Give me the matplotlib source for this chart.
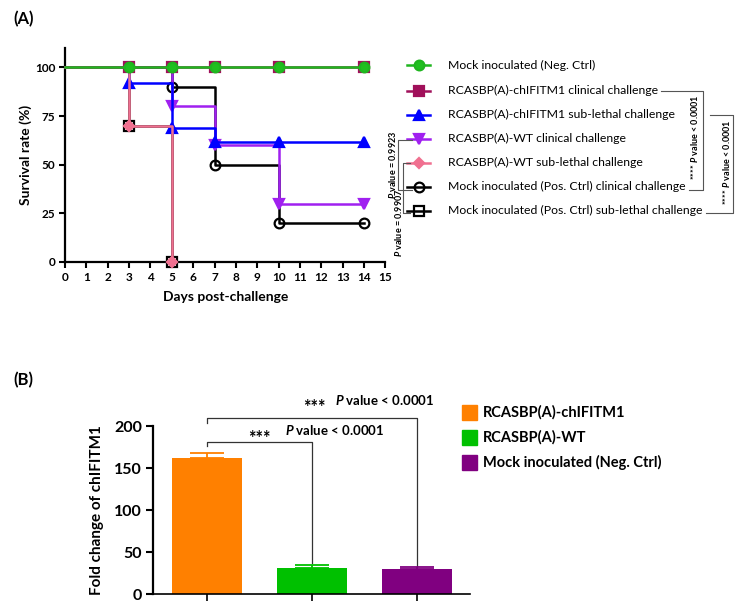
import matplotlib
matplotlib.use('Agg')
import matplotlib.pyplot as plt
from matplotlib.lines import Line2D
from matplotlib.patches import Rectangle

plt.rcParams['font.family'] = ['Lato', 'DejaVu Sans']
plt.rcParams['mathtext.fontset'] = 'custom'
plt.rcParams['mathtext.rm'] = 'Lato'
plt.rcParams['mathtext.it'] = 'Lato:italic'
plt.rcParams['mathtext.bf'] = 'Lato:bold'
plt.rcParams['mathtext.bfit'] = 'Lato:bold:italic'

W, H = 745, 608


def fx(px):
    return px / W


def fy(py):
    return 1 - py / H


# ---- panel A: survival (% alive) by day post-challenge
days_neg = [0, 3, 5, 7, 10, 14]
surv_neg = [100, 100, 100, 100, 100, 100]
days_chi_clin = [0, 3, 5, 7, 10, 14]
surv_chi_clin = [100, 100, 100, 100, 100, 100]
days_chi_sub = [0, 3, 5, 7, 10, 14]
surv_chi_sub = [100, 92, 69, 61.5, 61.5, 61.5]
days_wt_clin = [0, 5, 7, 10, 14]
surv_wt_clin = [100, 80, 60, 30, 30]
days_wt_sub = [0, 3, 5]
surv_wt_sub = [100, 70, 0]
days_pos_clin = [0, 5, 7, 10, 14]
surv_pos_clin = [100, 90, 50, 20, 20]
days_pos_sub = [0, 3, 5]
surv_pos_sub = [100, 70, 0]

labels_a = [
    'Mock inoculated (Neg. Ctrl)',
    'RCASBP(A)-chIFITM1 clinical challenge',
    'RCASBP(A)-chIFITM1 sub-lethal challenge',
    'RCASBP(A)-WT clinical challenge',
    'RCASBP(A)-WT sub-lethal challenge',
    'Mock inoculated (Pos. Ctrl) clinical challenge',
    'Mock inoculated (Pos. Ctrl) sub-lethal challenge',
]

# ---- panel B: fold change of chIFITM1
groups_b = ['RCASBP(A)-chIFITM1', 'RCASBP(A)-WT', 'Mock inoculated (Neg. Ctrl)']
fold_change = [161.5, 31, 29.5]
fold_err = [6.5, 3, 2.5]

# label, days, surv, colour, marker, face, zorder
series = [
    (labels_a[0], days_neg, surv_neg, '#1fb51f', 'o', '#1fc01f', 9),
    (labels_a[1], days_chi_clin, surv_chi_clin, '#a0105a', 's', '#a0105a', 8),
    (labels_a[2], days_chi_sub, surv_chi_sub, '#0000ff', '^', '#0000ff', 5),
    (labels_a[3], days_wt_clin, surv_wt_clin, '#a020f0', 'v', '#a020f0', 4),
    (labels_a[4], days_wt_sub, surv_wt_sub, '#f07090', 'D', '#f07090', 6),
    (labels_a[5], days_pos_clin, surv_pos_clin, 'black', 'o', 'none', 3),
    (labels_a[6], days_pos_sub, surv_pos_sub, 'black', 's', 'none', 2),
]
msize = {'o': 7, 's': 6.5, '^': 7, 'v': 7, 'D': 5}

fig = plt.figure(figsize=(7.45, 6.08), dpi=100)

ax = fig.add_axes([fx(65), fy(262), 320.4 / W, 214 / H])
for lab, d, s, c, m, fc, z in series:
    ax.step(d, s, where='post', color=c, lw=1.8, zorder=z, clip_on=False)
    ax.plot(d[1:], s[1:], ls='none', marker=m, ms=msize[m], mfc=fc,
            mec=c, mew=1.6, zorder=z, clip_on=False)

ax.set_xlim(0, 15)
ax.set_ylim(0, 110)
ax.set_xticks(range(16))
ax.set_yticks([0, 25, 50, 75, 100])
for sp in ['top', 'right']:
    ax.spines[sp].set_visible(False)
for sp in ['left', 'bottom']:
    ax.spines[sp].set_linewidth(1.6)
ax.tick_params(direction='out', length=4, width=1.5, labelsize=8.5, pad=3)
for t in ax.get_xticklabels() + ax.get_yticklabels():
    t.set_fontweight('bold')
ax.set_xlabel('Days post-challenge', fontsize=10, fontweight='bold', labelpad=6)
ax.set_ylabel('Survival rate (%)', fontsize=10, fontweight='bold', labelpad=2)

# legend of panel A, drawn by hand
leg_y = [65, 90.5, 114.5, 138.5, 162.5, 186.5, 210.5]
leg_texts = []
for (lab, d, s, c, m, fc, z), y in zip(series, leg_y):
    fig.add_artist(Line2D([fx(407), fx(430)], [fy(y), fy(y)], color=c, lw=1.8))
    fig.add_artist(Line2D([fx(418.5)], [fy(y)], marker=m, ms=msize[m], mfc=fc,
                          mec=c, mew=1.6))
    leg_texts.append(fig.text(fx(448), fy(y), lab, va='center', ha='left',
                              fontsize=8.8))

fig.canvas.draw()
rend = fig.canvas.get_renderer()


def text_end(t):
    return t.get_window_extent(rend).x1 + 3


def bracket(pts, lw=0.8, color='#555555'):
    xs = [fx(p[0]) for p in pts]
    ys = [fy(p[1]) for p in pts]
    fig.add_artist(Line2D(xs, ys, color=color, lw=lw))


bracket([(text_end(leg_texts[1]), 91), (703, 91), (703, 190),
         (text_end(leg_texts[5]), 190)])
bracket([(710, 115), (733, 115), (733, 213), (text_end(leg_texts[6]), 213)])
bracket([(412, 140), (398, 140), (398, 190), (412, 190)])
bracket([(410, 163), (403, 163), (403, 213), (410, 213)])

sig = r'**** $\mathbfit{P}$ value < 0.0001'
fig.text(fx(695), fy(137), sig, rotation=90, ha='center', va='center',
         fontsize=6.5, fontweight='bold')
fig.text(fx(727), fy(162), sig, rotation=90, ha='center', va='center',
         fontsize=6.5, fontweight='bold')
fig.text(fx(392), fy(165), r'$\mathbfit{P}$ value = 0.9923', rotation=90,
         ha='center', va='center', fontsize=6.5, fontweight='bold')
fig.text(fx(399), fy(223), r'$\mathbfit{P}$ value = 0.9907', rotation=90,
         ha='center', va='center', fontsize=6.5, fontweight='bold')

# ---- panel B
bar_colors = ['#ff8000', '#00c000', '#800080']
axb = fig.add_axes([fx(153), fy(594), 317 / W, 168 / H])
xb = list(range(len(groups_b)))
axb.bar(xb, fold_change, width=0.667, color=bar_colors, zorder=2)
for x, v, e, c in zip(xb, fold_change, fold_err, bar_colors):
    axb.errorbar([x], [v], yerr=[[0], [e]], color=c, lw=1.3, capsize=12.5,
                 capthick=1.3, zorder=3)
axb.set_xlim(-0.514, 2.505)
axb.set_ylim(0, 200)
axb.set_yticks([0, 50, 100, 150, 200])
axb.set_xticks(xb)
axb.set_xticklabels([])
for sp in ['top', 'right']:
    axb.spines[sp].set_visible(False)
axb.spines['left'].set_linewidth(1.6)
axb.spines['bottom'].set_linewidth(1.2)
axb.tick_params(axis='y', direction='out', length=5, width=1.5, labelsize=11.5, pad=3)
axb.tick_params(axis='x', direction='out', length=5, width=1.2)
for t in axb.get_yticklabels():
    t.set_fontweight('bold')
axb.set_ylabel('Fold change of chIFITM1', fontsize=11, fontweight='bold', labelpad=7)

# significance brackets
axb.plot([0, 0, 1, 1], [176, 181, 181, 37], color='#333333', lw=0.9, clip_on=False)
axb.plot([0, 0, 2, 2], [203.5, 209.5, 209.5, 32], color='#333333', lw=0.9, clip_on=False)
axb.text(0.39, 178, '***', fontsize=13, fontweight='bold', ha='left', va='baseline')
axb.text(0.743, 189.5, r'$\mathbfit{P}$ value < 0.0001', fontsize=9.5,
         fontweight='bold', ha='left', va='baseline')
axb.text(0.914, 216, '***', fontsize=13, fontweight='bold', ha='left', va='baseline')
axb.text(1.219, 224.5, r'$\mathbfit{P}$ value < 0.0001', fontsize=9.5,
         fontweight='bold', ha='left', va='baseline')

# legend of panel B
for g, c, y in zip(groups_b, bar_colors, [412, 437, 462]):
    fig.add_artist(Rectangle((fx(462), fy(y + 7.5)), 15 / W, 15 / H, color=c,
                             transform=fig.transFigure))
    fig.text(fx(483), fy(y), g, va='center', ha='left', fontsize=10.5,
             fontweight='bold')

fig.text(fx(13), fy(19), '(A)', fontsize=12, fontweight='bold', va='center')
fig.text(fx(13), fy(380), '(B)', fontsize=12, fontweight='bold', va='center')

fig.savefig('out.png', dpi=100)
